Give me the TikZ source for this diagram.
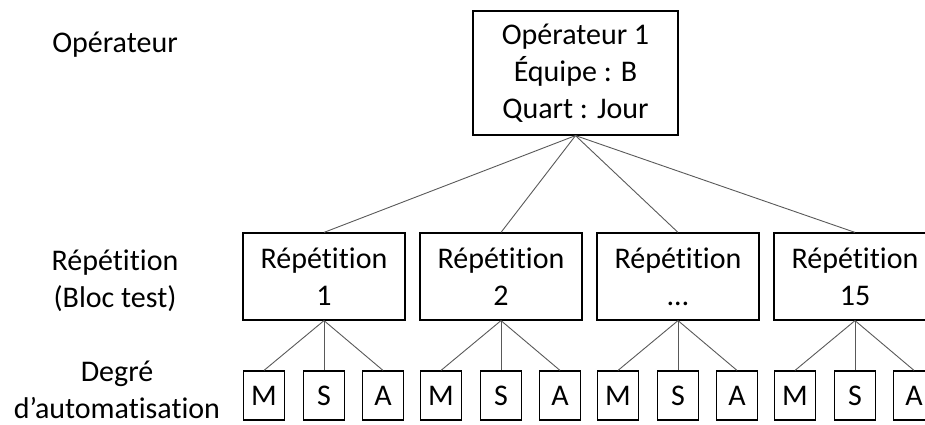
\documentclass[tikz,border=0pt]{standalone}
\usepackage{fontspec}
\setmainfont{Carlito}[Ligatures={NoCommon}]
\usepackage{tikz}
\usetikzlibrary{positioning,calc}

\begin{document}
\begin{tikzpicture}[x=1pt,y=-1pt,
    every node/.style={font=\fontsize{30}{37}\selectfont},
    opbox/.style={draw,line width=1.2pt,align=center,minimum width=205pt,minimum height=124pt,inner sep=0pt},
    repbox/.style={draw,line width=1.2pt,align=center,minimum width=162pt,minimum height=87pt,inner sep=0pt},
    degbox/.style={draw,line width=1.2pt,minimum width=41pt,minimum height=49pt,inner sep=0pt},
    link/.style={gray!70!black,line width=0.9pt}]
    \useasboundingbox (0,0) rectangle (925,425);

    % Level labels on the left
    \node (lvlop) at (115,45) {Opérateur};
    \node[align=center] (lvlrep) at (115,281) {Répétition\\(Bloc test)};
    \node[align=center,inner sep=1pt] (lvldeg) at (117,390) {Degré\\d’automatisation};

    % Operator box
    \node[opbox] (op) at (575.5,73) {Opérateur 1\\Équipe : B\\Quart : Jour};

    % Repetitions and their automation degrees
    \foreach \r/\lab in {1/1,2/2,3/{\ldots},4/15} {
        \pgfmathsetmacro{\cx}{324+(\r-1)*177}
        \node[repbox] (rep\r) at (\cx,276.5) {Répétition\\\lab};
        \draw[link] (op.south) -- (rep\r.north);
        \foreach \d/\off in {M/-60,S/0,A/59} {
            \node[degbox] (deg\r\d) at (\cx+\off,395.5) {\d};
            \draw[link] (rep\r.south) -- (deg\r\d.north);
        }
    }
\end{tikzpicture}
\end{document}
